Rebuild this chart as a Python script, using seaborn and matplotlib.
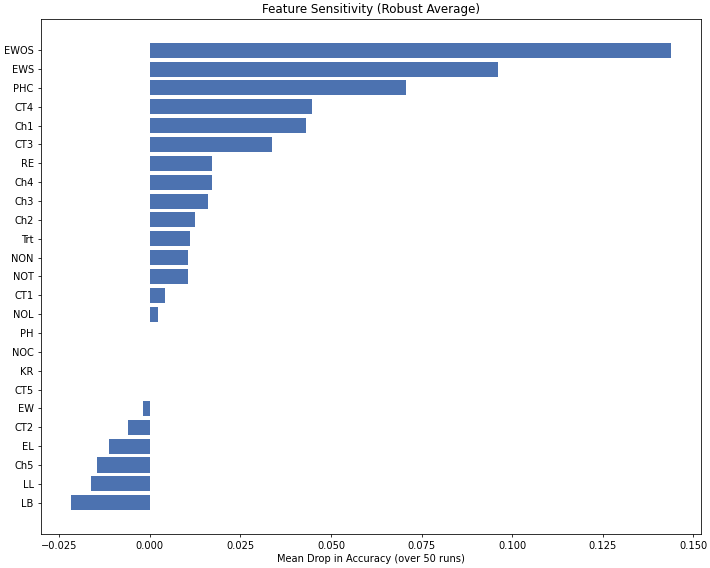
import seaborn as sns
import matplotlib.pyplot as plt
import pandas as pd

features = ['EWOS', 'EWS', 'PHC', 'CT4', 'Ch1', 'CT3', 'RE', 'Ch4', 'Ch3', 'Ch2',
            'Trt', 'NON', 'NOT', 'CT1', 'NOL', 'PH', 'NOC', 'KR', 'CT5', 'EW',
            'CT2', 'EL', 'Ch5', 'LL', 'LB']
mean_drop = [0.1438, 0.0960, 0.0706, 0.0449, 0.0431, 0.0336, 0.0173, 0.0173, 0.0162, 0.0124,
             0.0112, 0.0105, 0.0105, 0.0043, 0.0023, 0.0, 0.0, 0.0, 0.0, -0.0018,
             -0.0061, -0.0112, -0.0145, -0.0162, -0.0218]


def main():
    df = pd.DataFrame({'feature': features, 'drop': mean_drop})

    fig, ax = plt.subplots(figsize=(10, 8), dpi=71)
    sns.barplot(data=df, x='drop', y='feature', orient='h',
                color='#4c72b0', saturation=1, width=0.8, ax=ax)

    # plain matplotlib-style limits (with margins) instead of seaborn's tight ones
    ax.margins(y=0.05)
    ax.autoscale(enable=True, axis='y')
    if not ax.yaxis_inverted():
        ax.invert_yaxis()

    ax.set_title('Feature Sensitivity (Robust Average)')
    ax.set_xlabel('Mean Drop in Accuracy (over 50 runs)')
    ax.set_ylabel('')

    fig.subplots_adjust(left=0.0573, right=0.9873, top=0.966, bottom=0.0605)
    plt.savefig('out.png')


if __name__ == "__main__":
    main()
